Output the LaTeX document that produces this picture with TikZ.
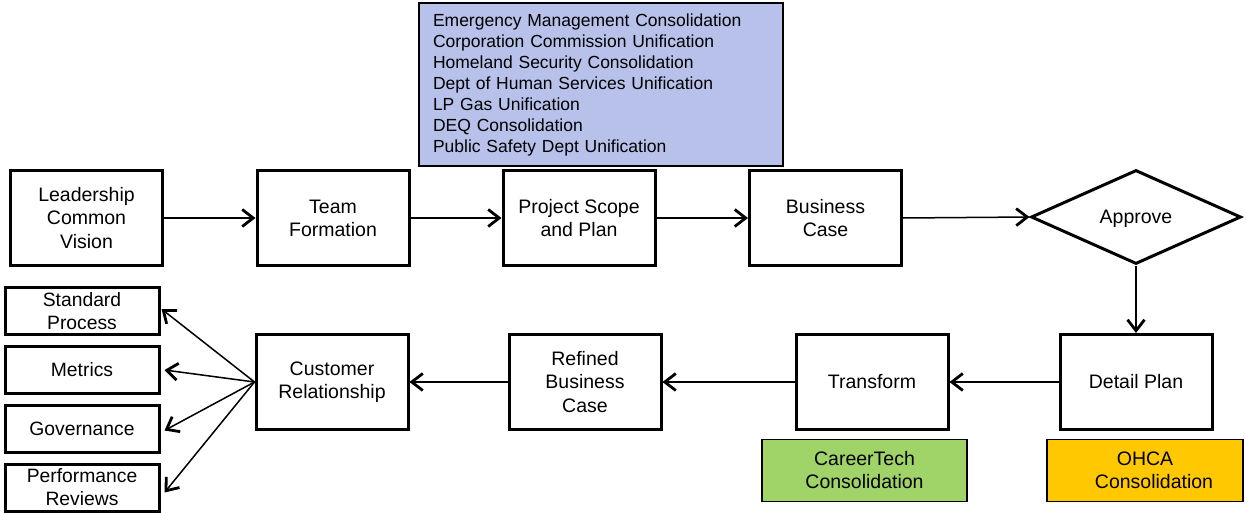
\documentclass[tikz,border=0pt]{standalone}
\usepackage{fontspec}
\setmainfont{Liberation Sans}
\usetikzlibrary{arrows.meta,shapes.geometric}
\definecolor{bluebox}{HTML}{B7C1EA}
\definecolor{greenbox}{HTML}{A0D468}
\definecolor{goldbox}{HTML}{FFC800}
\tikzset{
  proc/.style={draw, line width=3pt, rectangle, minimum width=152pt, minimum height=95pt, inner sep=0pt, align=center, font=\fontsize{19.5}{23.2}\selectfont},
  small/.style={draw, line width=3pt, rectangle, minimum width=154pt, minimum height=47pt, inner sep=0pt, align=center, font=\fontsize{19.3}{23}\selectfont},
  colbox/.style={draw, line width=1.5pt, rectangle, minimum width=205pt, minimum height=62pt, inner sep=0pt, align=center, font=\fontsize{19.5}{23}\selectfont},
  conn/.style={line width=1.5pt, -{Straight Barb[length=11pt,width=17pt,line width=2.8pt]}},
}
\begin{document}
\begin{tikzpicture}[x=1pt,y=-1pt]
\useasboundingbox (0,0) rectangle (1246,513);
% top list box
\node[draw, line width=1.8pt, fill=bluebox, minimum width=364pt, minimum height=163pt, inner xsep=14pt, inner ysep=0pt, text width=336pt, align=left, font=\fontsize{17.5}{21}\selectfont] (list) at (601,84.5) {Emergency Management Consolidation\\Corporation Commission Unification\\Homeland Security Consolidation\\Dept of Human Services Unification\\LP Gas Unification\\DEQ Consolidation\\Public Safety Dept Unification};
% top row
\node[proc] (lead) at (86.5,218) {Leadership\\Common\\Vision};
\node[proc] (team) at (333,218) {Team\\Formation};
\node[proc] (scope) at (579,218) {Project Scope\\and Plan};
\node[proc] (bcase) at (825.5,218) {Business\\Case};
\node[draw, diamond, line width=3pt, minimum width=210pt, minimum height=94pt, inner sep=0pt, text depth=0pt, font=\fontsize{19.5}{23}\selectfont] (appr) at (1136,217) {Approve};
% bottom row
\node[proc] (detail) at (1136,382) {Detail Plan};
\node[proc] (trans) at (872,382) {Transform};
\node[proc] (refined) at (585,382) {Refined\\Business\\Case};
\node[proc] (cust) at (332,382) {Customer\\Relationship};
% small boxes
\node[small] (std) at (82,311) {Standard\\Process};
\node[small] (met) at (82,370) {Metrics};
\node[small] (gov) at (82,428.5) {Governance};
\node[small] (perf) at (82,487.5) {Performance\\Reviews};
% colored boxes
\node[colbox, fill=greenbox] (career) at (864.5,470.5) {CareerTech\\Consolidation};
\node[colbox, fill=goldbox, minimum width=196pt] (ohca) at (1145,470.5) {OHCA\\\hspace*{18pt}Consolidation};
% connectors
\draw[conn] (lead) -- (team);
\draw[conn] (team) -- (scope);
\draw[conn] (scope) -- (bcase);
\draw[conn] (bcase.east) -- (appr.west);
\draw[conn] (appr.south) -- (detail.north);
\draw[conn] (detail) -- (trans);
\draw[conn] (trans) -- (refined);
\draw[conn] (refined) -- (cust);
\draw[conn] (cust.west) -- ([xshift=1pt,yshift=2pt]std.east);
\draw[conn] (cust.west) -- ([xshift=4pt]met.east);
\draw[conn] (cust.west) -- ([xshift=4pt,yshift=-2pt]gov.east);
\draw[conn] (cust.west) -- ([xshift=4pt,yshift=-5pt]perf.east);
\end{tikzpicture}
\end{document}
